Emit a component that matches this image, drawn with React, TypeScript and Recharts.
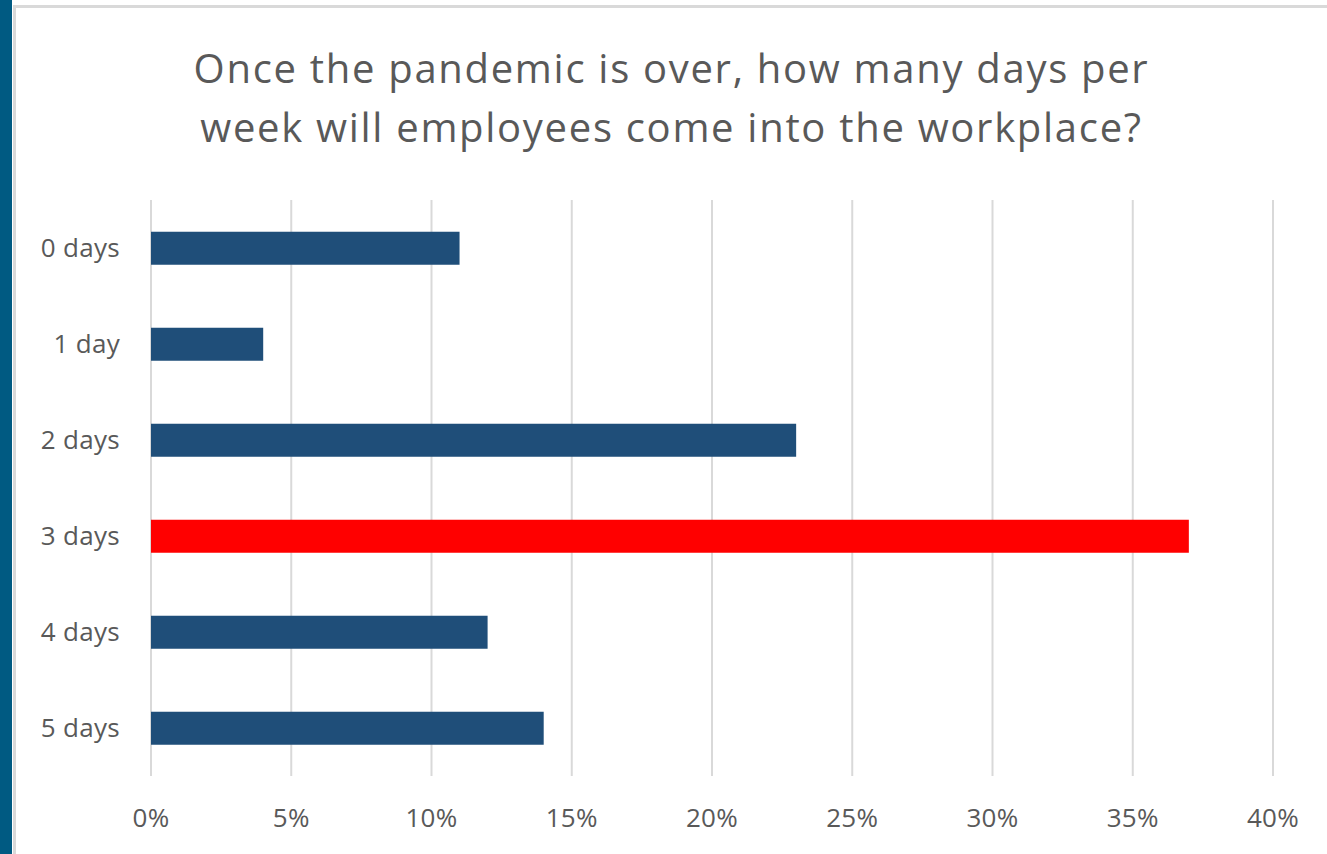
import React from 'react';
import { BarChart, Bar, XAxis, YAxis, CartesianGrid, Cell } from 'recharts';

const categories = ['0 days', '1 day', '2 days', '3 days', '4 days', '5 days'];
const shares = [11, 4, 23, 37, 12, 14];
const xTicks = [0, 5, 10, 15, 20, 25, 30, 35, 40];
const highlighted = '3 days';

const TITLE_LINES = [
  'Once the pandemic is over, how many days per',
  'week will employees come into the workplace?',
];

const FONT = '"Open Sans", "Noto Sans", sans-serif';
const BLUE = '#1f4e79';
const RED = '#ff0000';
const TEXT = '#595959';

const data = categories.map((day, i) => ({ day, share: shares[i] }));

export default function App() {
  const tickStyle = { fill: TEXT, fontSize: 26, fontFamily: FONT, letterSpacing: 0.3 };
  return (
    <div
      style={{
        position: 'fixed',
        left: 0,
        top: 0,
        width: 1327,
        height: 854,
        background: '#fff',
        overflow: 'hidden',
        fontFamily: FONT,
      }}
    >
      {/* dark strip on the left edge */}
      <div style={{ position: 'absolute', left: 0, top: 0, width: 12, height: 854, background: '#005a82' }} />
      {/* chart frame */}
      <div
        style={{
          position: 'absolute',
          left: 13,
          top: 5,
          width: 1327,
          height: 900,
          border: '3px solid #d9d9d9',
          boxSizing: 'border-box',
        }}
      />
      <div
        style={{
          position: 'absolute',
          left: 16,
          top: 38,
          width: 1311,
          textAlign: 'center',
          color: TEXT,
          fontSize: 40,
          lineHeight: '59px',
          letterSpacing: 1.7,
        }}
      >
        {TITLE_LINES.map((l) => (
          <div key={l}>{l}</div>
        ))}
      </div>
      <div style={{ position: 'absolute', left: 0, top: 0 }}>
        <BarChart
          width={1327}
          height={854}
          data={data}
          layout="vertical"
          margin={{ top: 200, right: 54, bottom: 0, left: 0 }}
          barCategoryGap="33%"
        >
          <CartesianGrid horizontal={false} stroke="#d9d9d9" strokeWidth={2} />
          <XAxis
            type="number"
            domain={[0, 40]}
            ticks={xTicks}
            tickFormatter={(v: number) => `${v}%`}
            axisLine={false}
            tickLine={false}
            tickSize={0}
            tickMargin={33}
            height={78}
            tick={tickStyle}
          />
          <YAxis
            type="category"
            dataKey="day"
            width={151}
            axisLine={false}
            tickLine={false}
            tickSize={0}
            tickMargin={31}
            tick={tickStyle}
          />
          <Bar dataKey="share" isAnimationActive={false}>
            {data.map((d) => (
              <Cell key={d.day} fill={d.day === highlighted ? RED : BLUE} />
            ))}
          </Bar>
        </BarChart>
      </div>
    </div>
  );
}
